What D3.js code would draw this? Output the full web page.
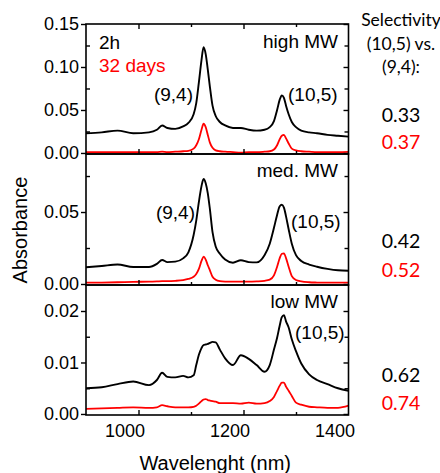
<!DOCTYPE html>
<html>
<head>
<meta charset="utf-8">
<script src="https://cdn.jsdelivr.net/npm/d3@7"></script>
<style>
  html, body { margin: 0; padding: 0; background: #fff; }
  svg { display: block; font-family: "Liberation Sans", Arial, sans-serif; }
</style>
</head>
<body>
<svg id="chart" width="440" height="473"></svg>
<script>
// ---------- DATA ----------
const wavelengths = [900, 930, 960, 990, 1020, 1035, 1045, 1055, 1070, 1085, 1095, 1105, 1110, 1115, 1120, 1124, 1128, 1132, 1136, 1141, 1147, 1155, 1165, 1180, 1195, 1210, 1225, 1240, 1250, 1258, 1264, 1269, 1273, 1277, 1281, 1286, 1292, 1300, 1310, 1325, 1340, 1360, 1380, 1400];

const highMW_2h = [0.023, 0.024, 0.026, 0.023, 0.024, 0.027, 0.032, 0.029, 0.028, 0.031, 0.035, 0.045, 0.058, 0.082, 0.108, 0.123, 0.115, 0.097, 0.077, 0.055, 0.043, 0.036, 0.032, 0.029, 0.029, 0.027, 0.026, 0.027, 0.030, 0.037, 0.050, 0.062, 0.067, 0.064, 0.055, 0.045, 0.036, 0.030, 0.026, 0.024, 0.023, 0.021, 0.020, 0.019];
const highMW_32d = [0.001, 0.001, 0.001, 0.001, 0.001, 0.001, 0.0015, 0.001, 0.0015, 0.002, 0.0025, 0.005, 0.009, 0.016, 0.027, 0.034, 0.030, 0.021, 0.012, 0.006, 0.003, 0.002, 0.0015, 0.001, 0.0005, 0.001, 0.001, 0.0015, 0.002, 0.004, 0.009, 0.016, 0.020, 0.021, 0.017, 0.011, 0.005, 0.003, 0.002, 0.0015, 0.001, 0.001, 0.001, 0.0012];

const medMW_2h = [0.0116, 0.0125, 0.0135, 0.0118, 0.0118, 0.014, 0.0167, 0.0152, 0.0155, 0.0178, 0.022, 0.034, 0.044, 0.057, 0.068, 0.0729, 0.070, 0.063, 0.052, 0.036, 0.026, 0.021, 0.017, 0.0148, 0.0165, 0.0152, 0.015, 0.020, 0.028, 0.039, 0.048, 0.054, 0.055, 0.053, 0.047, 0.038, 0.028, 0.020, 0.016, 0.0135, 0.012, 0.0105, 0.0095, 0.0092];
const medMW_32d = [0.0009, 0.001, 0.0012, 0.0015, 0.0016, 0.0018, 0.002, 0.002, 0.0022, 0.0027, 0.0035, 0.005, 0.007, 0.0105, 0.016, 0.019, 0.017, 0.013, 0.0095, 0.005, 0.003, 0.002, 0.0017, 0.0016, 0.0016, 0.0016, 0.0018, 0.0022, 0.003, 0.006, 0.012, 0.018, 0.021, 0.0213, 0.018, 0.012, 0.0055, 0.0028, 0.0018, 0.0012, 0.001, 0.0009, 0.0009, 0.0009];

const lowMW_2h = [0.0050, 0.0052, 0.0058, 0.0063, 0.0056, 0.0066, 0.0080, 0.0072, 0.0071, 0.0074, 0.0071, 0.0075, 0.0095, 0.0115, 0.0128, 0.0134, 0.0135, 0.0136, 0.0138, 0.0140, 0.0139, 0.0125, 0.0108, 0.0095, 0.0114, 0.0107, 0.0095, 0.0082, 0.0095, 0.0125, 0.0148, 0.0172, 0.0188, 0.0192, 0.0180, 0.0168, 0.0145, 0.0122, 0.0098, 0.0077, 0.0066, 0.0058, 0.0050, 0.0045];
const lowMW_32d = [0.0010, 0.0011, 0.0012, 0.0013, 0.0012, 0.0013, 0.0017, 0.0015, 0.0013, 0.0013, 0.0013, 0.0014, 0.0016, 0.0020, 0.0025, 0.0028, 0.0029, 0.0027, 0.0026, 0.0025, 0.0024, 0.0021, 0.0021, 0.0021, 0.0020, 0.0022, 0.0020, 0.0021, 0.0025, 0.0033, 0.0045, 0.0055, 0.0061, 0.0061, 0.0053, 0.0045, 0.0035, 0.0022, 0.0018, 0.0014, 0.0013, 0.0012, 0.0012, 0.0016];

const panelLabels = ["high MW", "med. MW", "low MW"];
const selectivity2h = ["0.33", "0.42", "0.62"];
const selectivity32d = ["0.37", "0.52", "0.74"];
const seriesNames = ["2h", "32 days"];
const selectivityTitle = ["Selectivity", "(10,5) vs.", "(9,4):"];

const xMajorTicks = [1000, 1200, 1400];
const xMinorTicks = [1100, 1300];
const yMajorTicks = [[0.00, 0.05, 0.10, 0.15], [0.00, 0.05], [0.00, 0.01, 0.02]];
const yMinorTicks = [[0.025, 0.075, 0.125], [0.025, 0.075], [0.005, 0.015]];
const yDomains = [[-0.0012, 0.15], [-0.0007, 0.0903], [-0.0002, 0.02505]];

// ---------- LAYOUT ----------
const svg = d3.select("#chart");
const X0 = 86, X1 = 348.5;
const panelEdges = [24, 154, 285, 415];
const BLACK = "#000", RED = "#ff0000";
const labelFont = "Liberation Sans, Arial, sans-serif";
const sideFont = "Lato, 'Open Sans', sans-serif";

const x = d3.scaleLinear().domain([900, 1400]).range([X0, X1]);

const panels = [
  { black: highMW_2h, red: highMW_32d },
  { black: medMW_2h, red: medMW_32d },
  { black: lowMW_2h, red: lowMW_32d }
];

panels.forEach((p, i) => {
  const top = panelEdges[i], bottom = panelEdges[i + 1];
  const y = d3.scaleLinear().domain(yDomains[i]).range([bottom, top]);
  const g = svg.append("g");

  const line = d3.line()
    .x((d, k) => x(wavelengths[k]))
    .y(d => y(d))
    .curve(d3.curveMonotoneX);

  g.append("path").datum(p.red).attr("d", line)
    .attr("fill", "none").attr("stroke", RED).attr("stroke-width", 1.8);
  g.append("path").datum(p.black).attr("d", line)
    .attr("fill", "none").attr("stroke", BLACK).attr("stroke-width", 1.9);

  // left axis: major outward with labels
  const la = g.append("g").attr("transform", `translate(${X0},0)`)
    .call(d3.axisLeft(y).tickValues(yMajorTicks[i]).tickSize(5).tickPadding(2).tickFormat(d3.format(".2f")));
  la.select(".domain").remove();
  la.selectAll("line").attr("stroke-width", 1.4);
  la.selectAll("text").attr("font-size", 18).attr("font-family", labelFont).attr("fill", "#000");

  // left minor ticks inward
  const lm = g.append("g").attr("transform", `translate(${X0},0)`)
    .call(d3.axisRight(y).tickValues(yMinorTicks[i]).tickSize(4).tickFormat(""));
  lm.select(".domain").remove();
  lm.selectAll("line").attr("stroke-width", 1.4);

  // right axis inward ticks
  const ra = g.append("g").attr("transform", `translate(${X1},0)`)
    .call(d3.axisLeft(y).tickValues(yMajorTicks[i]).tickSize(5).tickFormat(""));
  ra.select(".domain").remove();
  ra.selectAll("line").attr("stroke-width", 1.4);
  const rm = g.append("g").attr("transform", `translate(${X1},0)`)
    .call(d3.axisLeft(y).tickValues(yMinorTicks[i]).tickSize(4).tickFormat(""));
  rm.select(".domain").remove();
  rm.selectAll("line").attr("stroke-width", 1.4);

  // bottom inward ticks
  const ba = g.append("g").attr("transform", `translate(0,${bottom})`)
    .call(d3.axisTop(x).tickValues(xMajorTicks.filter(v => v < 1400)).tickSize(5).tickFormat(""));
  ba.select(".domain").remove();
  ba.selectAll("line").attr("stroke-width", 1.4);
  const bm = g.append("g").attr("transform", `translate(0,${bottom})`)
    .call(d3.axisTop(x).tickValues(xMinorTicks).tickSize(3).tickFormat(""));
  bm.select(".domain").remove();
  bm.selectAll("line").attr("stroke-width", 1.4);

  if (i === 0) {
    const ta = g.append("g").attr("transform", `translate(0,${top})`)
      .call(d3.axisBottom(x).tickValues(xMajorTicks.filter(v => v < 1400)).tickSize(5).tickFormat(""));
    ta.select(".domain").remove();
    ta.selectAll("line").attr("stroke-width", 1.4);
    const tm = g.append("g").attr("transform", `translate(0,${top})`)
      .call(d3.axisBottom(x).tickValues(xMinorTicks).tickSize(3).tickFormat(""));
    tm.select(".domain").remove();
    tm.selectAll("line").attr("stroke-width", 1.4);
  }

  // frame
  g.append("rect").attr("x", X0).attr("y", top).attr("width", X1 - X0).attr("height", bottom - top)
    .attr("fill", "none").attr("stroke", "#000").attr("stroke-width", 1.6);

  // panel label
  g.append("text").attr("x", 338).attr("y", [48, 177, 308][i])
    .attr("text-anchor", "end").attr("font-size", 19).attr("font-family", labelFont)
    .text(panelLabels[i]);

  // selectivity values
  svg.append("text").attr("x", 401).attr("y", [122, 248, 382][i])
    .attr("text-anchor", "middle").attr("font-size", 19.5).attr("font-family", sideFont)
    .attr("fill", BLACK).text(selectivity2h[i]);
  svg.append("text").attr("x", 401).attr("y", [149, 277, 410][i])
    .attr("text-anchor", "middle").attr("font-size", 19.5).attr("font-family", sideFont)
    .attr("fill", RED).text(selectivity32d[i]);
});

// peak annotations
const ann = [
  { t: "(9,4)", x: 193, y: 101, a: "end" },
  { t: "(10,5)", x: 288, y: 101, a: "start" },
  { t: "(9,4)", x: 195, y: 219, a: "end" },
  { t: "(10,5)", x: 291, y: 228, a: "start" },
  { t: "(10,5)", x: 295, y: 339, a: "start" }
];
ann.forEach(d => {
  svg.append("text").attr("x", d.x).attr("y", d.y).attr("text-anchor", d.a)
    .attr("font-size", 19).attr("font-family", labelFont).text(d.t);
});

// legend
svg.append("text").attr("x", 99).attr("y", 49).attr("font-size", 19).attr("font-family", labelFont)
  .attr("fill", BLACK).text(seriesNames[0]);
svg.append("text").attr("x", 99).attr("y", 72).attr("font-size", 19).attr("font-family", labelFont)
  .attr("fill", RED).text(seriesNames[1]);

// selectivity title
[26, 50, 73].forEach((yy, k) => {
  svg.append("text").attr("x", 401).attr("y", yy).attr("text-anchor", "middle")
    .attr("font-size", 17.5).attr("font-family", sideFont).text(selectivityTitle[k]);
});

// x tick labels
const xl = svg.append("g").attr("transform", `translate(0,${panelEdges[3]})`)
  .call(d3.axisBottom(x).tickValues(xMajorTicks).tickSize(0).tickPadding(9).tickFormat(d3.format("d")));
xl.select(".domain").remove();
xl.selectAll("text").attr("font-size", 18).attr("font-family", labelFont).attr("dx", -14).attr("fill", "#000");

// axis titles
svg.append("text").attr("x", (X0 + X1) / 2 - 2).attr("y", 470).attr("text-anchor", "middle")
  .attr("font-size", 20).attr("font-family", labelFont).text("Wavelenght (nm)");
svg.append("text").attr("transform", "translate(27,230) rotate(-90)").attr("text-anchor", "middle")
  .attr("font-size", 20).attr("font-family", labelFont).text("Absorbance");
</script>
</body>
</html>
